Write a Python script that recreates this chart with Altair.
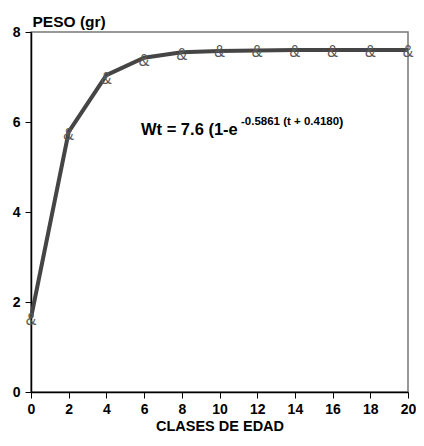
import altair as alt
import pandas as pd

# Data
ages = [0, 2, 4, 6, 8, 10, 12, 14, 16, 18, 20]
fitted = [1.65, 5.78, 7.04, 7.43, 7.55, 7.58, 7.59, 7.60, 7.60, 7.60, 7.60]
observed = [1.59, 5.71, 6.96, 7.36, 7.49, 7.56, 7.56, 7.56, 7.56, 7.56, 7.55]
x_ticks = [0, 2, 4, 6, 8, 10, 12, 14, 16, 18, 20]
y_ticks = [0, 2, 4, 6, 8]

x_title = "CLASES DE EDAD"
y_title = "PESO (gr)"
formula_main = "Wt = 7.6 (1-e"
formula_exp = "-0.5861 (t + 0.4180"
formula_close = ")"

df = pd.DataFrame({"age": ages, "fit": fitted, "obs": observed})

FONT = "Liberation Sans"

x_axis = alt.Axis(
    values=x_ticks, title=x_title, grid=False, format="d",
    domainColor="black", domainWidth=1.5, tickColor="black", tickSize=6,
    labelFont=FONT, labelFontSize=14, labelFontWeight="bold", labelColor="black",
    labelPadding=4, labelFlush=False, labelOverlap=False,
    titleFont=FONT, titleFontSize=14.5, titleFontWeight="bold", titleColor="black",
    titlePadding=3,
)
x_scale = alt.Scale(domain=[0, 20], nice=False, zero=False)

y_axis = alt.Axis(
    values=y_ticks, title=y_title, grid=False, format="d",
    domainColor="black", domainWidth=1.5, tickColor="black", tickSize=6,
    labelFont=FONT, labelFontSize=14, labelFontWeight="bold", labelColor="black",
    labelPadding=5, labelFlush=False, labelOverlap=False,
    titleFont=FONT, titleFontSize=15.5, titleFontWeight="bold", titleColor="black",
    titleAngle=0, titleAlign="left", titleBaseline="alphabetic",
    titleX=1, titleY=-6,
)
y_scale = alt.Scale(domain=[0, 8], nice=False)

base = alt.Chart(df)

line = base.mark_line(color="#454545", strokeWidth=4).encode(
    x=alt.X("age:Q", scale=x_scale, axis=x_axis),
    y=alt.Y("fit:Q", scale=y_scale, axis=y_axis),
)

markers = base.mark_text(
    text="&", font="Liberation Sans", fontSize=16, color="#5a5a5a",
    baseline="middle", align="center",
).encode(
    x=alt.X("age:Q", scale=x_scale, axis=x_axis),
    y=alt.Y("obs:Q", scale=y_scale, axis=y_axis),
)

main_text = alt.Chart(pd.DataFrame({"t": [formula_main]})).mark_text(
    font=FONT, fontSize=16.5, fontWeight="bold", color="black",
    align="left", baseline="alphabetic",
).encode(text="t:N", x=alt.value(110), y=alt.value(103))

exp_text = alt.Chart(pd.DataFrame({"t": [formula_exp]})).mark_text(
    font=FONT, fontSize=11.5, fontWeight="bold", color="black",
    align="left", baseline="alphabetic",
).encode(text="t:N", x=alt.value(210), y=alt.value(93))

close_text = alt.Chart(pd.DataFrame({"t": [formula_close]})).mark_text(
    font=FONT, fontSize=13, fontWeight="bold", color="black",
    align="left", baseline="alphabetic",
).encode(text="t:N", x=alt.value(308), y=alt.value(94))

chart = alt.layer(line, markers, main_text, exp_text, close_text).properties(
    width=377, height=360,
    autosize=alt.AutoSizeParams(type="none"),
    padding={"left": 23, "top": 24, "right": 8, "bottom": 44},
).configure_view(stroke="#777777", strokeWidth=1.5).configure_axis(labelOverlap=False)

chart.save("out.html", embed_options={"renderer": "svg", "actions": False})
